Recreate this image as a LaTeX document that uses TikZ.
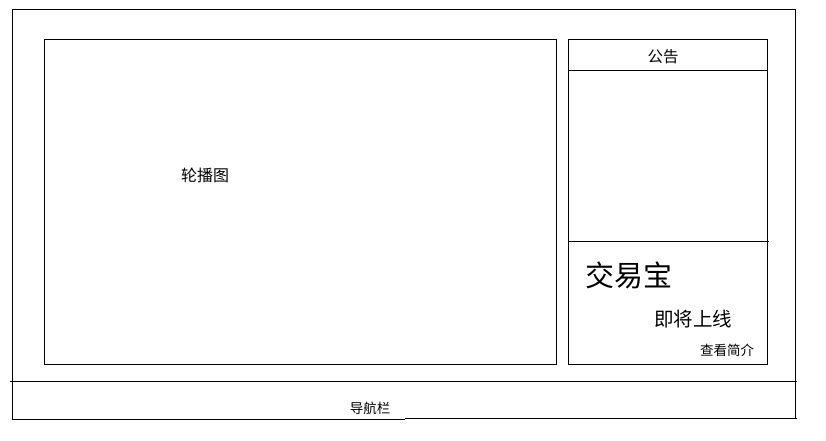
\documentclass[tikz,border=0pt]{standalone}
\usepackage{fontspec}
\setmainfont{Noto Sans CJK SC}
\begin{document}
\begin{tikzpicture}[x=1pt,y=-1pt,
  frame/.style={draw=black, line width=1pt},
  lbl/.style={inner sep=0pt, text=black}]
\useasboundingbox (0,0) rectangle (826,441);
\fill[white] (0,0) rectangle (826,441);
% outer frame
\coordinate (otl) at (12,10);
\coordinate (otr) at (795,10);
\coordinate (obl) at (12,419);
\coordinate (obr) at (795,418);
\draw[frame] (obl) -- (otl) -- (otr) -- (obr);
% nav bar lines
\coordinate (nl) at (10,381);
\coordinate (nr) at (797,381);
\draw[frame] (nl) -- (nr);
\coordinate (bm1) at (405,419);
\coordinate (bm2) at (405,418);
\coordinate (br) at (797,418);
\draw[frame] (obl) -- (bm1);
\draw[frame] (bm2) -- (br);
% carousel
\draw[frame] (44,40) rectangle (556,364);
\node[lbl, font=\fontsize{16}{18}\selectfont] (carousel) at (205,175) {轮播图};
% right panel
\draw[frame] (568,40) rectangle (767,364);
\coordinate (h1l) at (568,71);
\coordinate (h1r) at (767,71);
\draw[frame] (h1l) -- (h1r);
\coordinate (h2l) at (568,241);
\coordinate (h2r) at (769,241);
\draw[frame] (h2l) -- (h2r);
\node[lbl, font=\fontsize{15.5}{18}\selectfont] (notice) at (663,57) {公告};
\node[lbl, font=\fontsize{29}{32}\selectfont] (jyb) at (629,275) {交易宝};
\node[lbl, font=\fontsize{19.5}{22}\selectfont] (soon) at (693,319) {即将上线};
\node[lbl, font=\fontsize{13.5}{16}\selectfont] (intro) at (727,350) {查看简介};
\node[lbl, font=\fontsize{13.5}{16}\selectfont] (nav) at (370,408) {导航栏};
\end{tikzpicture}
\end{document}
